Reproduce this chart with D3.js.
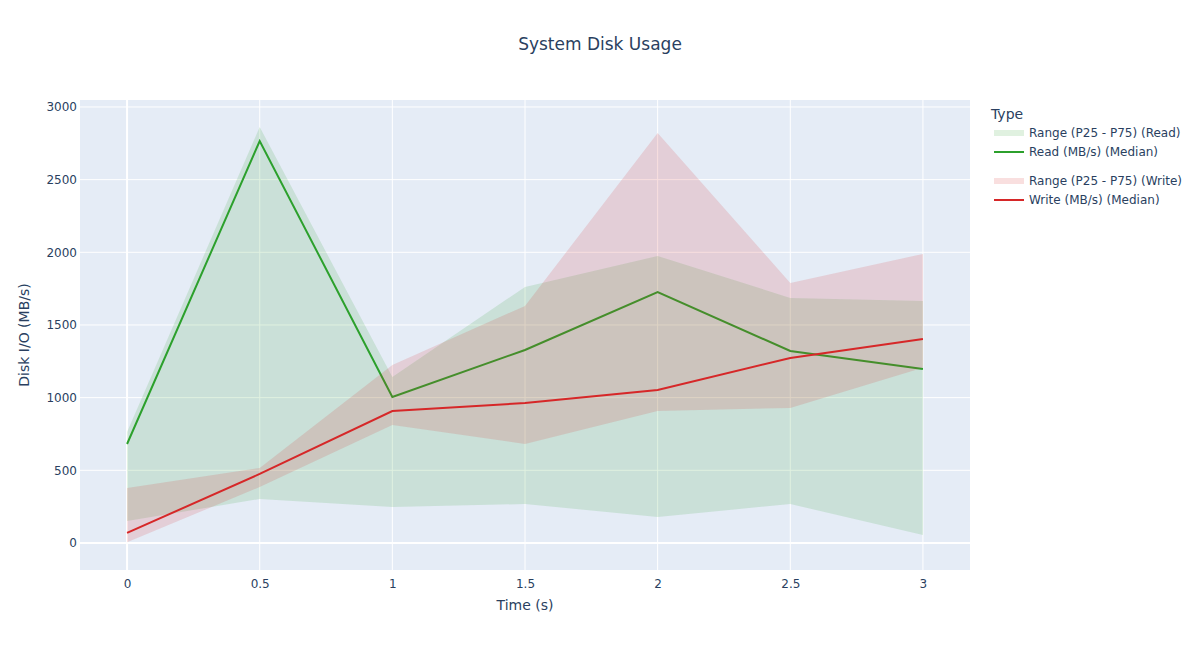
<!DOCTYPE html>
<html lang="en">
<head>
    <meta charset="UTF-8">
    <title>System Disk Usage</title>
    <script src="https://cdn.jsdelivr.net/npm/d3@7/dist/d3.min.js"></script>
    <style>
        body { margin: 0; background: #fff; }
        text { font-family: "DejaVu Sans", Verdana, sans-serif; fill: #2a3f5f; }
        .grid line { stroke: #fff; stroke-width: 1px; }
        .zero { stroke: #fff; stroke-width: 2px; }
        .tick text { font-size: 12px; }
    </style>
</head>
<body>
<svg id="main" width="1200" height="650"></svg>
<script>
    // data
    let times = [0, 0.5, 1, 1.5, 2, 2.5, 3];
    let readMedian = [681, 2766, 1005, 1328, 1727, 1321, 1197];
    let readP25 = [151, 303, 248, 268, 179, 268, 55];
    let readP75 = [764, 2862, 1142, 1762, 1975, 1686, 1665];
    let writeMedian = [69, 475, 908, 963, 1053, 1273, 1404];
    let writeP25 = [5, 385, 812, 681, 908, 929, 1205];
    let writeP75 = [378, 516, 1225, 1631, 2821, 1789, 1989];
    let xTicks = [0, 0.5, 1, 1.5, 2, 2.5, 3];
    let yTicks = [0, 500, 1000, 1500, 2000, 2500, 3000];

    let series = [
        {name: 'Read (MB/s) (Median)', band: 'Range (P25 - P75) (Read)', med: readMedian, lo: readP25, hi: readP75, color: '#2ca02c', fill: 'rgba(44,160,44,0.15)'},
        {name: 'Write (MB/s) (Median)', band: 'Range (P25 - P75) (Write)', med: writeMedian, lo: writeP25, hi: writeP75, color: '#d62728', fill: 'rgba(214,39,40,0.15)'}
    ];

    let svg = d3.select('svg#main');
    let plot = {x0: 80, x1: 970, y0: 100, y1: 570};

    let xScale = d3.scaleLinear().domain([-0.1774, 3.1774]).range([plot.x0, plot.x1]);
    let yScale = d3.scaleLinear().domain([-186, 3048]).range([plot.y1, plot.y0]);

    // background
    svg.append('rect')
        .attr('x', plot.x0).attr('y', plot.y0)
        .attr('width', plot.x1 - plot.x0).attr('height', plot.y1 - plot.y0)
        .attr('fill', '#e5ecf6');

    // grid
    let grid = svg.append('g').attr('class', 'grid');
    grid.selectAll('line.v').data(xTicks.filter(d => d !== 0)).join('line')
        .attr('x1', d => xScale(d)).attr('x2', d => xScale(d))
        .attr('y1', plot.y0).attr('y2', plot.y1);
    grid.selectAll('line.h').data(yTicks.filter(d => d !== 0)).join('line')
        .attr('y1', d => yScale(d)).attr('y2', d => yScale(d))
        .attr('x1', plot.x0).attr('x2', plot.x1);
    svg.append('line').attr('class', 'zero')
        .attr('x1', xScale(0)).attr('x2', xScale(0)).attr('y1', plot.y0).attr('y2', plot.y1);
    svg.append('line').attr('class', 'zero')
        .attr('y1', yScale(0)).attr('y2', yScale(0)).attr('x1', plot.x0).attr('x2', plot.x1);

    // bands and lines
    let area = d3.area()
        .x((d, i) => xScale(times[i]))
        .y0(d => yScale(d[0]))
        .y1(d => yScale(d[1]));
    let line = d3.line()
        .x((d, i) => xScale(times[i]))
        .y(d => yScale(d));

    let fig = svg.append('g');
    series.forEach(function (s) {
        fig.append('path')
            .attr('d', area(s.lo.map((v, i) => [v, s.hi[i]])))
            .attr('fill', s.fill).attr('stroke', 'none');
        fig.append('path')
            .attr('d', line(s.med))
            .attr('fill', 'none').attr('stroke', s.color).attr('stroke-width', 2);
    });

    // axes
    let xAxis = svg.append('g')
        .attr('transform', 'translate(0,' + plot.y1 + ')')
        .call(d3.axisBottom(xScale).tickValues(xTicks).tickSize(0).tickPadding(9).tickFormat(d3.format('')));
    xAxis.select('.domain').remove();
    let yAxis = svg.append('g')
        .attr('transform', 'translate(' + plot.x0 + ',0)')
        .call(d3.axisLeft(yScale).tickValues(yTicks).tickSize(0).tickPadding(3).tickFormat(d3.format('')));
    yAxis.select('.domain').remove();
    svg.selectAll('.tick text').style('fill', '#2a3f5f');

    // titles
    svg.append('text').attr('x', 600).attr('y', 50).attr('text-anchor', 'middle')
        .style('font-size', '17px').text('System Disk Usage');
    svg.append('text').attr('x', 525).attr('y', 610).attr('text-anchor', 'middle')
        .style('font-size', '14px').text('Time (s)');
    svg.append('text').attr('transform', 'translate(29,335) rotate(-90)').attr('text-anchor', 'middle')
        .style('font-size', '14px').text('Disk I/O (MB/s)');

    // legend
    let legend = svg.append('g');
    legend.append('text').attr('x', 991).attr('y', 119).style('font-size', '14px').text('Type');
    series.forEach(function (s, k) {
        let y0 = 133 + k * 48;
        legend.append('rect').attr('x', 994).attr('y', y0 - 3).attr('width', 30).attr('height', 6)
            .attr('fill', s.fill);
        legend.append('text').attr('x', 1029).attr('y', y0 + 4).style('font-size', '12px').text(s.band);
        legend.append('line').attr('x1', 994).attr('x2', 1024).attr('y1', y0 + 19).attr('y2', y0 + 19)
            .attr('stroke', s.color).attr('stroke-width', 2);
        legend.append('text').attr('x', 1029).attr('y', y0 + 23).style('font-size', '12px').text(s.name);
    });
</script>
</body>
</html>
